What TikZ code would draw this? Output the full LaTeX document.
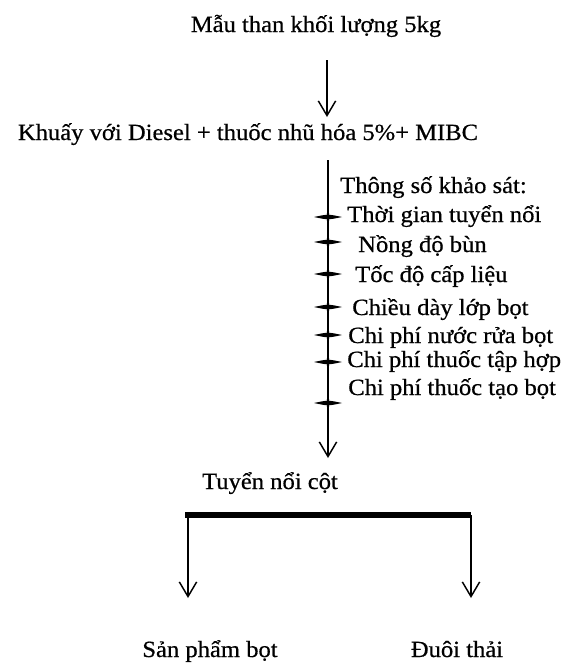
\documentclass[tikz,border=0pt]{standalone}
\usepackage{fontspec}
\setmainfont{Liberation Serif}[FakeStretch=1.06, FakeBold=0.6]
\usetikzlibrary{arrows.meta}
\usetikzlibrary{positioning}

\tikzset{
  lbl/.style={inner sep=0pt, anchor=base, font=\fontsize{17.4}{20}\selectfont},
  param/.style={lbl, anchor=base west},
  flow/.style={line width=1.1pt, -{Straight Barb[length=11pt,width=13pt,line width=1.1pt]}},
  bar/.style={line width=3.8pt},
  tick/.style={fill=black}
}

\begin{document}
\begin{tikzpicture}[x=0.75pt,y=-0.75pt]
            \useasboundingbox (0,0) rectangle (575,665);

            % Input sample
            \node[lbl] (mau) at (316,32) {Mẫu than khối lượng 5kg};
            \coordinate (t1) at (327,60);
            \coordinate (t1e) at (327,117);
            \draw[flow] (t1) -- (t1e);

            % Mixing step
            \node[lbl] (khuay) at (248,140) {Khuấy với Diesel + thuốc nhũ hóa 5\%+ MIBC};

            % Parameter axis
            \coordinate (v0) at (328,160);
            \coordinate (v1) at (328,458);
            \draw[flow, line width=1.5pt] (v0) -- (v1);
            \foreach \y in {217,242,274,307,335,362,403}{
                \fill[tick] (314,\y) .. controls (328,\y-3) .. (342,\y) .. controls (328,\y+3) .. cycle;
                \fill[tick] (328,\y-8) .. controls (330,\y) .. (328,\y+8) .. controls (326,\y) .. cycle;
            }

            % Parameters
            \node[param] (p0) at (340,193) {Thông số khảo sát:};
            \node[param] (p1) at (347,222) {Thời gian tuyển nổi};
            \node[param] (p2) at (358,252) {Nồng độ bùn};
            \node[param] (p3) at (355,282) {Tốc độ cấp liệu};
            \node[param] (p4) at (352,315) {Chiều dày lớp bọt};
            \node[param] (p5) at (348,343) {Chi phí nước rửa bọt};
            \node[param] (p6) at (347,367) {Chi phí thuốc tập hợp};
            \node[param] (p7) at (348,395) {Chi phí thuốc tạo bọt};

            % Column flotation
            \node[lbl] (cot) at (270,489) {Tuyển nổi cột};
            \coordinate (bl) at (185,515);
            \coordinate (br) at (471,515);
            \draw[bar] (bl) -- (br);
            \coordinate (sl) at (188,598);
            \coordinate (sr) at (471,598);
            \draw[flow] (bl -| sl) -- (sl);
            \draw[flow] (br) -- (sr);

            % Outputs
            \node[lbl] (sp) at (210,657) {Sản phẩm bọt};
            \node[lbl] (dt) at (457,657) {Đuôi thải};
        \end{tikzpicture}
\end{document}
